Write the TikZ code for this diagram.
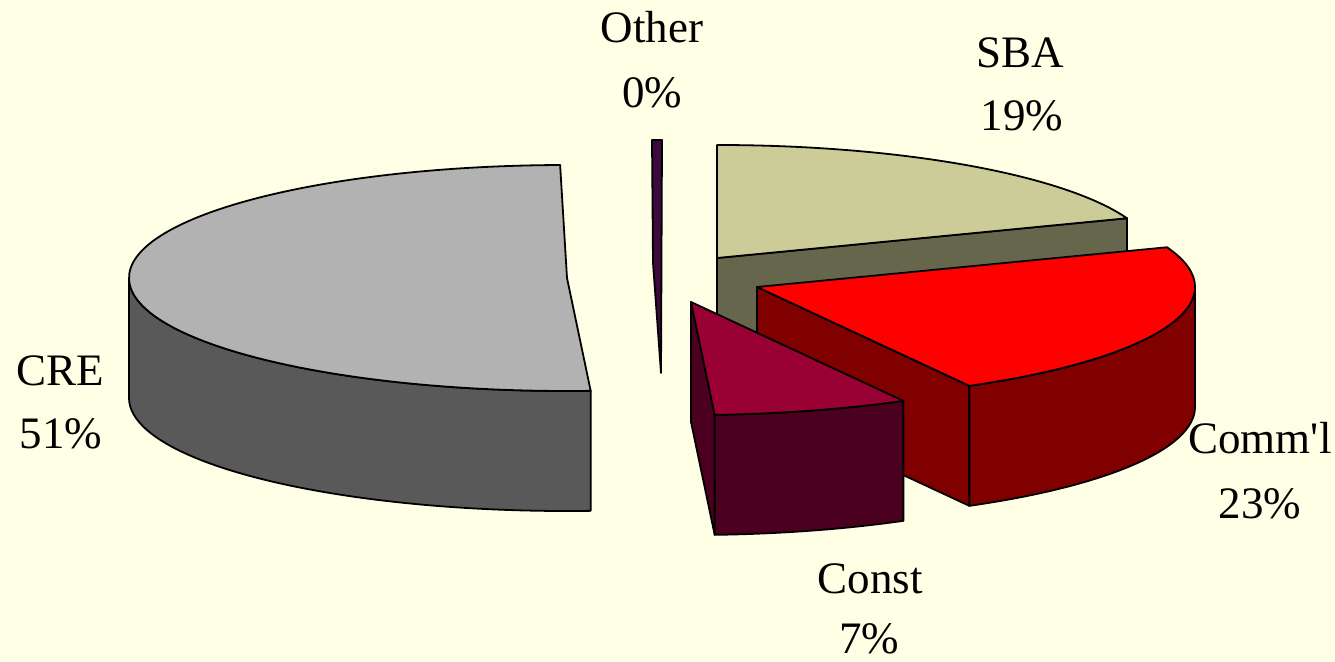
\documentclass[tikz,border=0pt]{standalone}
\usepackage{fontspec}
\setmainfont{Liberation Serif}
\usetikzlibrary{calc}
\definecolor{bg}{RGB}{255,255,229}
\definecolor{cretop}{RGB}{178,178,178}
\definecolor{creside}{RGB}{89,89,89}
\definecolor{sbatop}{RGB}{204,204,153}
\definecolor{sbaside}{RGB}{102,102,77}
\definecolor{comtop}{RGB}{255,0,0}
\definecolor{comside}{RGB}{128,0,0}
\definecolor{contop}{RGB}{153,0,51}
\definecolor{conside}{RGB}{74,0,30}
\definecolor{othcol}{RGB}{60,10,60}
\begin{document}
\begin{tikzpicture}[x=1pt,y=1pt,line width=1.8pt,line join=round,
  ell/.style={x radius=438,y radius=113},
  face/.style={draw=black},
  lbl/.style={anchor=base,font=\fontsize{45}{54}\selectfont,inner sep=0pt}]
\fill[bg] (0,0) rectangle (1335,-661);
\useasboundingbox (0,0) rectangle (1335,-661);
% Other
\filldraw[face,fill=othcol] (652,-140) -- (662,-140) -- (661,-373) -- (653,-263) -- cycle;
% SBA
\coordinate (Sc) at (717,-258);
\coordinate (Sa) at ($(Sc)+(20.6:438 and 113)$);
\filldraw[face,fill=sbaside] (Sc) -- (Sa) -- ($(Sa)+(0,-120)$) -- ($(Sc)+(0,-120)$) -- cycle;
\filldraw[face,fill=sbatop] (Sc) -- ++(90:438 and 113) arc[ell,start angle=90,end angle=20.6] -- cycle;
% CRE
\coordinate (Cc) at (567,-278);
\filldraw[face,fill=creside] (Cc) ++(180:438 and 113) arc[ell,start angle=180,end angle=273.1] -- ++(0,-120) arc[ell,start angle=273.1,end angle=180] -- cycle;
\filldraw[face,fill=cretop] (Cc) -- ++(90.9:438 and 113) arc[ell,start angle=90.9,end angle=273.1] -- cycle;
% Comm'l
\coordinate (Mc) at (757,-287);
\coordinate (Mp) at ($(Mc)+(-61:438 and 113)$);
\filldraw[face,fill=comside] (Mc) -- (Mp) -- ($(Mp)+(0,-120)$) -- ($(Mc)+(0,-120)$) -- cycle;
\filldraw[face,fill=comside] (Mc) ++(0:438 and 113) arc[ell,start angle=0,end angle=-61] -- ++(0,-120) arc[ell,start angle=-61,end angle=0] -- cycle;
\filldraw[face,fill=comtop] (Mc) -- ++(20.6:438 and 113) arc[ell,start angle=20.6,end angle=-61] -- cycle;
% Const
\coordinate (Kc) at (691,-302);
\coordinate (Kq) at ($(Kc)+(-86.9:438 and 113)$);
\filldraw[face,fill=conside] (Kc) -- (Kq) -- ($(Kq)+(0,-120)$) -- ($(Kc)+(0,-120)$) -- cycle;
\filldraw[face,fill=conside] (Kc) ++(-86.9:438 and 113) arc[ell,start angle=-86.9,end angle=-61] -- ++(0,-120) arc[ell,start angle=-61,end angle=-86.9] -- cycle;
\filldraw[face,fill=contop] (Kc) -- ++(-61:438 and 113) arc[ell,start angle=-61,end angle=-86.9] -- cycle;
% labels
\node[lbl] (othName) at (652,-43) {Other};
\node[lbl] (othPct) at (652,-107) {0\%};
\node[lbl] (sbaName) at (1020,-67) {SBA};
\node[lbl] (sbaPct) at (1022,-130) {19\%};
\node[lbl] (creName) at (60,-385) {CRE};
\node[lbl] (crePct) at (61,-448) {51\%};
\node[lbl] (comName) at (1260,-453) {Comm\textquotesingle l};
\node[lbl] (comPct) at (1260,-518) {23\%};
\node[lbl] (conName) at (870,-593) {Const};
\node[lbl] (conPct) at (869,-653) {7\%};
\end{tikzpicture}
\end{document}
